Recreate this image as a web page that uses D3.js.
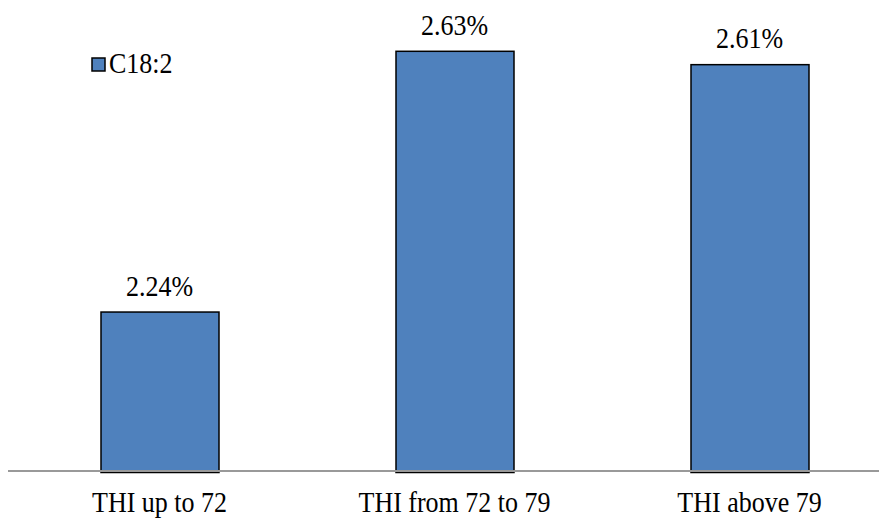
<!DOCTYPE html>
<html><head><meta charset="utf-8">
<script src="https://cdn.jsdelivr.net/npm/d3@7"></script>
<style>body{margin:0;background:#fff}svg{display:block}</style>
</head><body><svg id="c" width="879" height="519"></svg>
<script>
const categories = ["THI up to 72", "THI from 72 to 79", "THI above 79"];
const values = [2.24, 2.63, 2.61];
const valueLabels = ["2.24%", "2.63%", "2.61%"];
const seriesName = "C18:2";
const yDomain = [2.0, 2.7];

const svg = d3.select("#c");
const fam = '"Liberation Serif","Times New Roman",serif';
const fs = 26, sy = 1.12;
const x = d3.scaleBand().domain(categories).range([12, 897]).paddingInner(0.6).paddingOuter(0.3);
const y = d3.scaleLinear().domain(yDomain).range([472, 4]);

svg.selectAll("rect.bar").data(values).join("rect").attr("class","bar")
  .attr("x", (d,i)=>x(categories[i])+0.5).attr("width", x.bandwidth())
  .attr("y", d=>y(d)+0.5).attr("height", d=>y(yDomain[0])-y(d))
  .attr("fill","#4F81BD").attr("stroke","#000").attr("stroke-width",1.5);

svg.append("line").attr("x1",8).attr("x2",879).attr("y1",471).attr("y2",471)
  .attr("stroke","#999").attr("stroke-width",2);

function txt(sel){ return sel.style("font-family",fam).style("font-size",fs+"px").attr("fill","#000"); }

txt(svg.selectAll("text.val").data(values).join("text").attr("class","val")
  .attr("transform",(d,i)=>`translate(${x(categories[i])+x.bandwidth()/2},${y(d)-16}) scale(1,${sy})`)
  .attr("text-anchor","middle")).text((d,i)=>valueLabels[i]);

txt(svg.selectAll("text.cat").data(categories).join("text").attr("class","cat")
  .attr("transform",d=>`translate(${x(d)+x.bandwidth()/2},512) scale(1,${sy})`)
  .attr("text-anchor","middle")).text(d=>d);

svg.append("rect").attr("x",92).attr("y",58).attr("width",13).attr("height",13)
  .attr("fill","#4F81BD").attr("stroke","#000").attr("stroke-width",1.5);
txt(svg.append("text").attr("transform",`translate(109,73) scale(1,${sy})`)).text(seriesName);
</script></body></html>
